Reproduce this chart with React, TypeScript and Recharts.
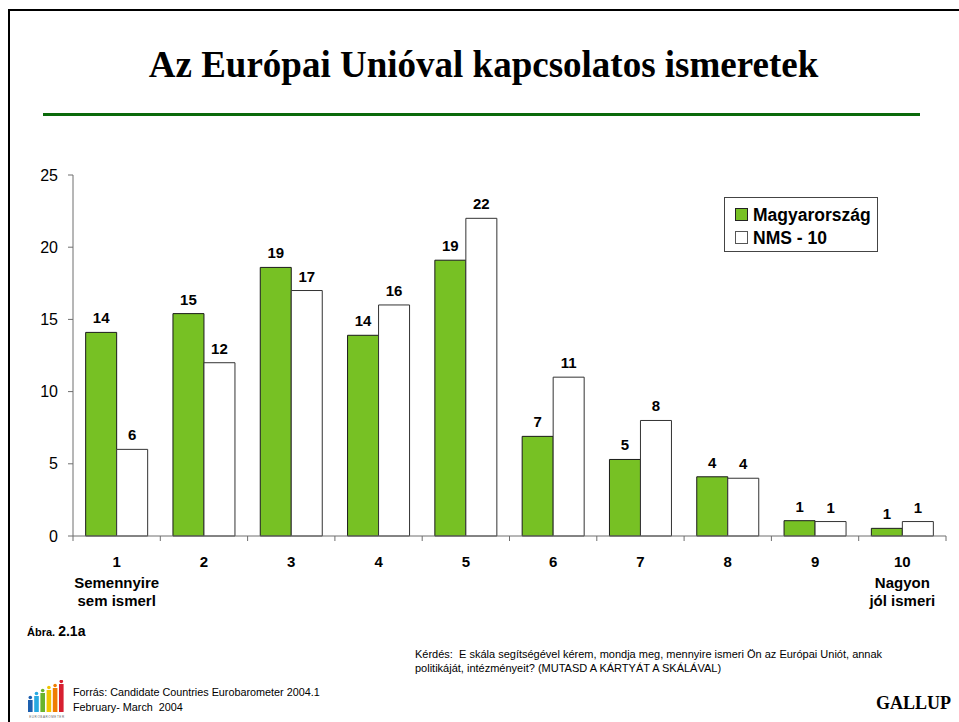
import React from 'react';
import { BarChart, Bar, XAxis, YAxis, LabelList, Legend } from 'recharts';

const categories = ['1', '2', '3', '4', '5', '6', '7', '8', '9', '10'];
const subLabels: string[][] = [['Semennyire', 'sem ismerl'], [], [], [], [], [], [], [], [], ['Nagyon', 'jól ismeri']];
const magyarorszag = [14.1, 15.4, 18.6, 13.9, 19.1, 6.9, 5.3, 4.1, 1.06, 0.53];
const nms10 = [6, 12, 17, 16, 22, 11, 8, 4, 1, 1];
const yTicks = [0, 5, 10, 15, 20, 25];
const seriesNames = ['Magyarország', 'NMS - 10'];

const data = categories.map((c, i) => ({ cat: c, hu: magyarorszag[i], nms: nms10[i] }));

const W = 959;
const H = 722;
const PLOT_LEFT = 73;
const PLOT_RIGHT = 946;
const PLOT_TOP = 175;
const PLOT_BOTTOM = 536;
const Y_AXIS_W = 60;
const X_AXIS_H = 80;
const BAND = (PLOT_RIGHT - PLOT_LEFT) / categories.length;

const SANS = 'Arial, "Liberation Sans", sans-serif';
const SERIF = '"Times New Roman", "Liberation Serif", serif';
const GREEN = '#77C124';
const AXIS = '#6e6e6e';

const XTick = (props: any) => {
  const { x, y, payload, index } = props;
  const subs = subLabels[index] || [];
  return (
    <g>
      <line x1={x - BAND / 2} x2={x - BAND / 2} y1={y} y2={y + 5} stroke={AXIS} strokeWidth={1} />
      {index === categories.length - 1 && (
        <line x1={x + BAND / 2} x2={x + BAND / 2} y1={y} y2={y + 5} stroke={AXIS} strokeWidth={1} />
      )}
      <text x={x} y={y + 31} textAnchor="middle" fontFamily={SANS} fontWeight="bold" fontSize={15} fill="#000">
        {payload.value}
      </text>
      {subs.map((s, i) => (
        <text key={i} x={x} y={y + 52 + i * 18} textAnchor="middle" fontFamily={SANS} fontWeight="bold" fontSize={15} fill="#000">
          {s}
        </text>
      ))}
    </g>
  );
};

const LegendContent = () => (
  <div
    style={{
      width: 154,
      height: 55,
      border: '1px solid #444',
      background: '#fff',
      boxSizing: 'border-box',
      fontFamily: SANS,
      fontWeight: 'bold',
      fontSize: 17.5,
      color: '#000',
      paddingLeft: 10,
      paddingTop: 5,
    }}
  >
    {seriesNames.map((n, i) => (
      <div key={n} style={{ display: 'flex', alignItems: 'center', height: 23 }}>
        <span
          style={{
            display: 'inline-block',
            width: 11,
            height: 11,
            background: i === 0 ? GREEN : '#fff',
            border: i === 0 ? '1px solid #222' : '1px solid #555',
            marginRight: 5,
          }}
        />
        <span style={{ lineHeight: '20px' }}>{n}</span>
      </div>
    ))}
  </div>
);

const roundFmt = (v: any) => Math.round(Number(v));

const LogoBars = [
  { c: '#1d5fae', h: 12 },
  { c: '#27a9e1', h: 16 },
  { c: '#6ab42d', h: 19 },
  { c: '#f2c500', h: 22 },
  { c: '#ef7d00', h: 24 },
  { c: '#d71f30', h: 28 },
];

export default function App() {
  return (
    <div style={{ position: 'absolute', left: 0, top: 0, width: W, height: H, background: '#fff', overflow: 'hidden' }}>
      <div style={{ position: 'absolute', left: 8, top: 9, width: W, height: 2, background: '#000' }} />
      <div style={{ position: 'absolute', left: 8, top: 9, width: 2, height: H, background: '#000' }} />
      <div
        style={{
          position: 'absolute',
          left: 0,
          width: W,
          top: 40,
          textAlign: 'center',
          fontFamily: SERIF,
          fontWeight: 'bold',
          fontSize: 37,
          lineHeight: '50px',
          color: '#000',
          paddingLeft: 8,
          boxSizing: 'border-box',
        }}
      >
        Az Európai Unióval kapcsolatos ismeretek
      </div>
      <div style={{ position: 'absolute', left: 43, top: 113, width: 877, height: 3, background: '#0a6a0a' }} />

      <div style={{ position: 'absolute', left: 0, top: 0 }}>
        <BarChart
          width={W}
          height={H}
          data={data}
          margin={{ top: PLOT_TOP, right: W - PLOT_RIGHT, left: PLOT_LEFT - Y_AXIS_W, bottom: H - PLOT_BOTTOM - X_AXIS_H }}
          barGap={0}
          barCategoryGap="14.5%"
        >
          <XAxis
            dataKey="cat"
            height={X_AXIS_H}
            tickLine={false}
            tickSize={0}
            tickMargin={0}
            axisLine={{ stroke: AXIS, strokeWidth: 1 }}
            tick={<XTick />}
            interval={0}
          />
          <YAxis
            width={Y_AXIS_W}
            domain={[0, 25]}
            ticks={yTicks}
            tickSize={5}
            tickMargin={10}
            axisLine={{ stroke: AXIS, strokeWidth: 1 }}
            tickLine={{ stroke: AXIS, strokeWidth: 1 }}
            tick={{ fontFamily: SANS, fontSize: 16, fill: '#000' }}
            allowDecimals={false}
          />
          <Legend
            layout="vertical"
            align="center"
            verticalAlign="middle"
            content={<LegendContent />}
            wrapperStyle={{ position: 'absolute', left: 724, top: 197, width: 154 }}
          />
          <Bar dataKey="hu" name={seriesNames[0]} fill={GREEN} stroke="#1a1a1a" strokeWidth={1} isAnimationActive={false}>
            <LabelList
              dataKey="hu"
              position="top"
              offset={9}
              formatter={roundFmt}
              style={{ fontFamily: SANS, fontWeight: 'bold', fontSize: 15, fill: '#000' }}
            />
          </Bar>
          <Bar dataKey="nms" name={seriesNames[1]} fill="#fff" stroke="#333" strokeWidth={1} isAnimationActive={false}>
            <LabelList
              dataKey="nms"
              position="top"
              offset={9}
              formatter={roundFmt}
              style={{ fontFamily: SANS, fontWeight: 'bold', fontSize: 15, fill: '#000' }}
            />
          </Bar>
        </BarChart>
      </div>

      <div style={{ position: 'absolute', left: 27, top: 622, fontFamily: SANS, fontWeight: 'bold', color: '#000', whiteSpace: 'nowrap' }}>
        <span style={{ fontSize: 11 }}>Ábra. </span>
        <span style={{ fontSize: 14 }}>2.1a</span>
      </div>

      <div
        style={{
          position: 'absolute',
          left: 415,
          top: 647,
          fontFamily: SANS,
          fontSize: 11,
          lineHeight: '14px',
          color: '#000',
          whiteSpace: 'nowrap',
        }}
      >
        <div>Kérdés:&nbsp; E skála segítségével kérem, mondja meg, mennyire ismeri Ön az Európai Uniót, annak</div>
        <div>politikáját, intézményeit? (MUTASD A KÁRTYÁT A SKÁLÁVAL)</div>
      </div>

      <svg style={{ position: 'absolute', left: 26, top: 680 }} width={42} height={40}>
        {LogoBars.map((b, i) => (
          <g key={i}>
            <rect x={2 + i * 6.2} y={32 - b.h} width={4.6} height={b.h} fill={b.c} />
            <circle cx={4.3 + i * 6.2} cy={32 - b.h - 2.5} r={1.8} fill={b.c} />
          </g>
        ))}
        <text x={21} y={37.5} textAnchor="middle" fontFamily={SANS} fontSize={3} fill="#666" letterSpacing={0.6}>
          EUROBAROMETER
        </text>
      </svg>

      <div
        style={{
          position: 'absolute',
          left: 73,
          top: 685,
          fontFamily: SANS,
          fontSize: 10.8,
          lineHeight: '15px',
          color: '#000',
          whiteSpace: 'nowrap',
        }}
      >
        <div>Forrás: Candidate Countries Eurobarometer 2004.1</div>
        <div>February- March&nbsp; 2004</div>
      </div>

      <div
        style={{
          position: 'absolute',
          left: 876,
          top: 692,
          fontFamily: SERIF,
          fontWeight: 'bold',
          fontSize: 18,
          lineHeight: '22px',
          color: '#000',
        }}
      >
        GALLUP
      </div>
    </div>
  );
}
